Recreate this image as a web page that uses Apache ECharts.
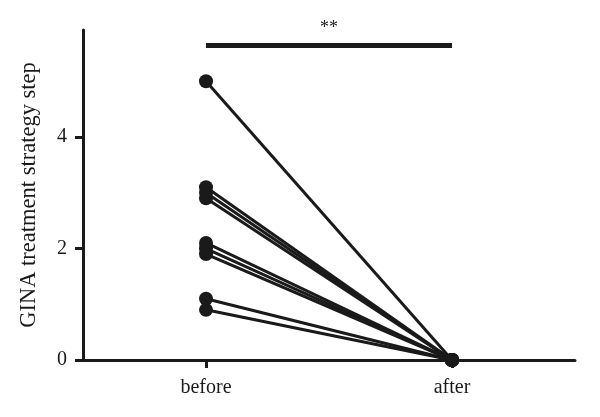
<!DOCTYPE html>
<html>
<head>
<meta charset="utf-8">
<script src="https://cdn.jsdelivr.net/npm/echarts@6/dist/echarts.min.js"></script>
<style>html,body{margin:0;padding:0;background:#fff}#c{width:600px;height:417px}</style>
</head>
<body>
<div id="c"></div>
<script>
var categories = ['before', 'after'];
var beforeValues = [5, 3.1, 3.0, 2.9, 2.1, 2.0, 1.9, 1.1, 0.9];
var afterValues = [0, 0, 0, 0, 0, 0, 0, 0, 0];
var yTicks = [0, 2, 4];
var sigLabel = '**';
var sigLevel = 5.65;
var yTitle = 'GINA treatment strategy step';

var ink = '#1a1a1a';
var font = '"Liberation Serif", "DejaVu Serif", serif';

var series = beforeValues.map(function (b, i) {
  var s = {
    type: 'line',
    data: [b, afterValues[i]],
    symbol: 'circle',
    symbolSize: 14,
    lineStyle: { color: ink, width: 3 },
    itemStyle: { color: ink },
    z: 3,
    animation: false
  };
  if (i === 0) {
    s.markLine = {
      silent: true,
      symbol: 'none',
      animation: false,
      lineStyle: { color: ink, width: 5, type: 'solid' },
      label: {
        show: true,
        position: 'middle',
        formatter: sigLabel,
        color: ink,
        fontSize: 18,
        fontFamily: font,
        distance: 8
      },
      data: [[{ coord: [categories[0], sigLevel] }, { coord: [categories[1], sigLevel] }]]
    };
  }
  return s;
});

var chart = echarts.init(document.getElementById('c'));
chart.setOption({
  animation: false,
  grid: { left: 83, right: 25, top: 30, bottom: 57 },
  xAxis: {
    type: 'category',
    data: categories,
    boundaryGap: true,
    axisLine: { lineStyle: { color: ink, width: 3 } },
    axisTick: { show: true, alignWithLabel: true, length: 8, lineStyle: { color: ink, width: 3 } },
    axisLabel: { color: ink, fontSize: 20, fontFamily: font, margin: 18 }
  },
  yAxis: {
    type: 'value',
    min: 0,
    max: 5.92,
    interval: 2,
    name: yTitle,
    nameLocation: 'middle',
    nameGap: 42,
    nameTextStyle: { color: ink, fontSize: 22.5, fontFamily: font },
    splitLine: { show: false },
    axisLine: { show: true, lineStyle: { color: ink, width: 3 } },
    axisTick: { show: true, length: 8, lineStyle: { color: ink, width: 3 } },
    axisLabel: {
      color: ink, fontSize: 20, fontFamily: font, margin: 16, showMaxLabel: false,
      formatter: function (v) { return yTicks.indexOf(v) >= 0 ? String(v) : ''; }
    }
  },
  series: series
});
</script>
</body>
</html>
